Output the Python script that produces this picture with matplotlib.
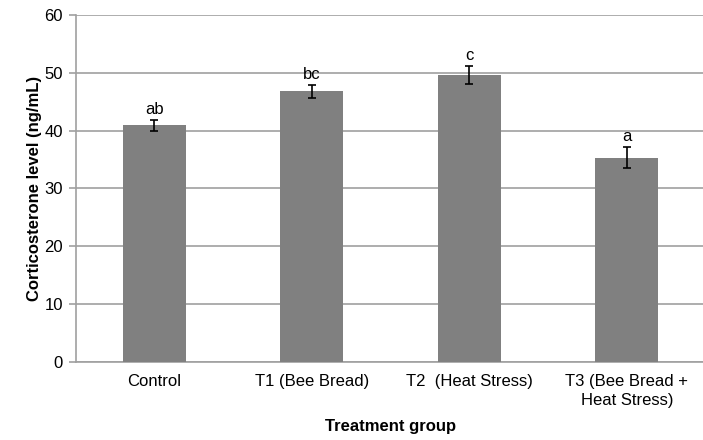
import matplotlib
matplotlib.use("Agg")
import matplotlib.pyplot as plt
import numpy as np

# Data
groups = ["Control", "T1 (Bee Bread)", "T2  (Heat Stress)", "T3 (Bee Bread +\nHeat Stress)"]
means = [40.9, 46.8, 49.6, 35.3]
errors = [1.0, 1.1, 1.6, 1.8]
letters = ["ab", "bc", "c", "a"]
y_ticks = [0, 10, 20, 30, 40, 50, 60]

plt.rcParams['font.family'] = ['Liberation Sans', 'DejaVu Sans']

fig = plt.figure(figsize=(7.03, 4.40), dpi=100)
ax = fig.add_axes([0.1074, 0.178, 0.8963, 0.788])

x = np.arange(len(groups))
ax.bar(x, means, width=0.4, color='#808080', zorder=3)
ax.errorbar(x, means, yerr=errors, fmt='none', ecolor='black',
            elinewidth=1.2, capsize=3.2, capthick=1.2, zorder=4)

for xi, m, e, lab in zip(x, means, errors, letters):
    ax.text(xi, m + e + 0.5, lab, ha='center', va='bottom', fontsize=12)

ax.set_xlim(-0.5, len(groups) - 0.5)
ax.set_ylim(0, 60)
ax.set_yticks(y_ticks)
ax.yaxis.grid(True, color='#a0a0a0', linewidth=1.2, zorder=0)
ax.set_axisbelow(True)

ax.set_xticks(x)
ax.set_xticklabels(groups, fontsize=12, linespacing=1.3)
ax.tick_params(axis='x', length=0, pad=9)
ax.tick_params(axis='y', labelsize=12, length=5, color='#a0a0a0', width=1.2, pad=4)

for side in ['top', 'right']:
    ax.spines[side].set_visible(False)
for side in ['left', 'bottom']:
    ax.spines[side].set_color('#a0a0a0')
    ax.spines[side].set_linewidth(1.2)

ax.set_ylabel('Corticosterone level (ng/mL)', fontsize=12, fontweight='bold', labelpad=2)
ax.set_xlabel('Treatment group', fontsize=12, fontweight='bold', labelpad=8)

fig.savefig('out.png', dpi=100)
